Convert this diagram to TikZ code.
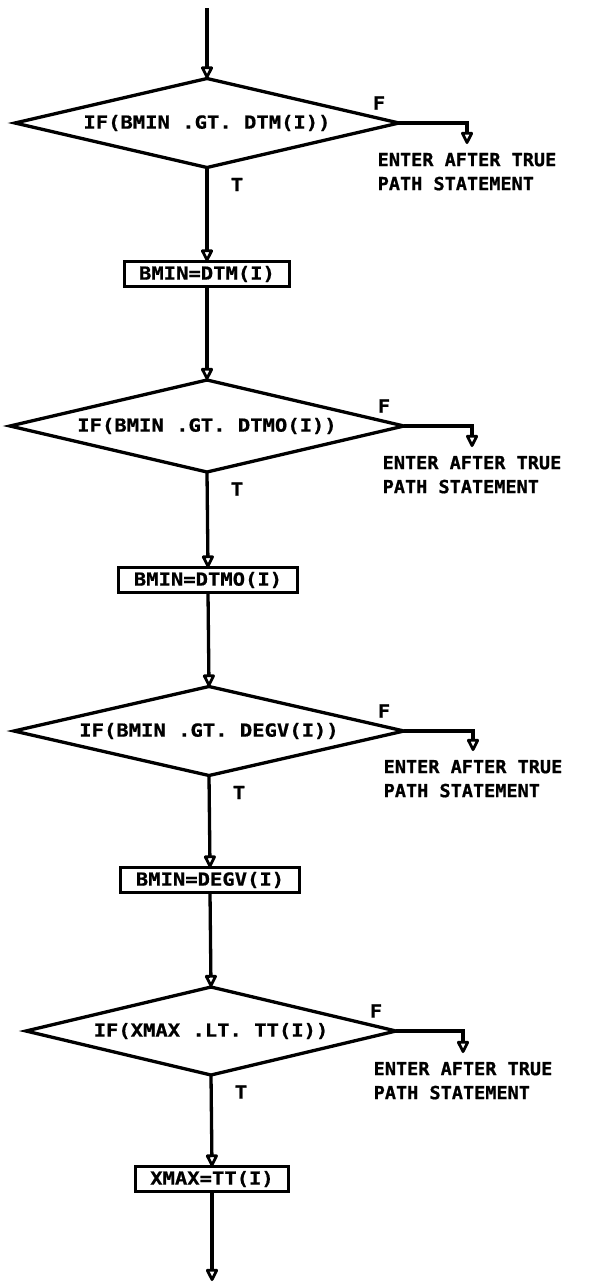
\documentclass[tikz,border=0pt]{standalone}
\usepackage{fontspec}
\newfontfamily\plotfont{DejaVu Sans Mono}[FakeStretch=1.14,FakeBold=0.8]
\newfontfamily\notefont{DejaVu Sans Mono}[FakeStretch=1.03,FakeBold=0.8]
\usetikzlibrary{shapes.geometric,arrows.meta}
\begin{document}
\begin{tikzpicture}[x=1pt,y=-1pt,
  every node/.style={font=\plotfont\bfseries\fontsize{18}{24}\selectfont},
  decision/.style={diamond,draw,line width=3.3pt,inner sep=0pt,outer sep=0pt,aspect=4.2},
  assign/.style={rectangle,draw,line width=3pt,inner xsep=15pt,inner ysep=0pt,minimum height=25pt,outer sep=0pt},
  note/.style={font=\notefont\bfseries\fontsize{18}{24}\selectfont,align=left,inner sep=0pt,outer ysep=9pt,anchor=north},
  flow/.style={line width=3.3pt,-{Triangle[open,length=14pt,width=13pt,line width=2.8pt,round]}},
  lbl/.style={inner sep=0pt}]
% page
\fill[white] (0,0) rectangle (589,1282);
\useasboundingbox (0,0) rectangle (589,1282);

% decisions and assignments down the main column
\node[decision,minimum width=384pt,minimum height=89pt] (d1) at (207,123) {IF(BMIN .GT. DTM(I))};
\node[assign] (b1) at (207,274) {BMIN=DTM(I)};
\node[decision,minimum width=394pt,minimum height=92pt] (d2) at (207,426) {IF(BMIN .GT. DTMO(I))};
\node[assign] (b2) at (208,580) {BMIN=DTMO(I)};
\node[decision,minimum width=390pt,minimum height=89pt] (d3) at (209,731) {IF(BMIN .GT. DEGV(I))};
\node[assign] (b3) at (210,880) {BMIN=DEGV(I)};
\node[decision,minimum width=370pt,minimum height=88pt] (d4) at (211,1031) {IF(XMAX .LT. TT(I))};
\node[assign] (b4) at (212,1179) {XMAX=TT(I)};

% false-branch targets
\node[note] (e1) at (467,144) {ENTER AFTER TRUE\\PATH STATEMENT};
\node[note] (e2) at (472,447) {ENTER AFTER TRUE\\PATH STATEMENT};
\node[note] (e3) at (473,751) {ENTER AFTER TRUE\\PATH STATEMENT};
\node[note] (e4) at (463,1053) {ENTER AFTER TRUE\\PATH STATEMENT};

% branch labels
\foreach \d in {1,2,3,4}{
  \node[lbl] (f\d) at ([shift={(-20,-20)}]d\d.east) {F};
  \node[lbl] (t\d) at ([shift={(30,17)}]d\d.south) {T};
}

% flow lines
\coordinate (start) at (207,8);
\coordinate (finish) at (212,1281);
\draw[flow] (start) -- (d1.north);
\draw[flow] (d1.south) -- (b1.north);
\draw[flow] (b1.south) -- (d2.north);
\draw[flow] (d2.south) -- (b2.north);
\draw[flow] (b2.south) -- (d3.north);
\draw[flow] (d3.south) -- (b3.north);
\draw[flow] (b3.south) -- (d4.north);
\draw[flow] (d4.south) -- (b4.north);
\draw[flow] (b4.south) -- (finish);
\foreach \d in {1,2,3,4}{
  \draw[flow] (d\d.east) -| (e\d.north);
}
\end{tikzpicture}
\end{document}
